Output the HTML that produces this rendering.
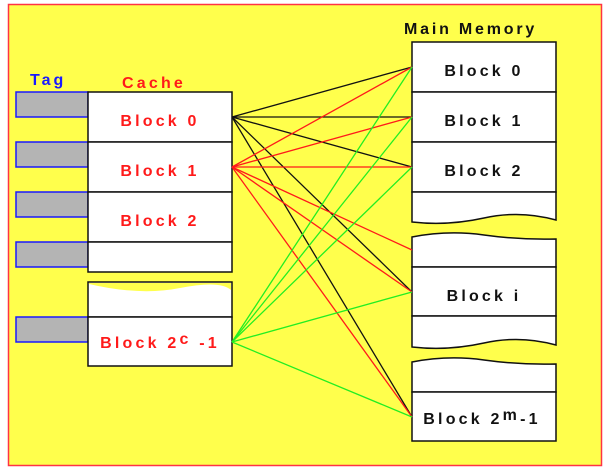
<!DOCTYPE html>
<html><head><meta charset="utf-8"><style>
body{margin:0;background:#fff;}
svg{display:block;font-family:"Liberation Sans",Arial,sans-serif;font-weight:bold;}
</style></head><body>
<svg width="609" height="470" viewBox="0 0 609 470">
<rect x="8.5" y="4.5" width="593" height="461" fill="#ffff4c" stroke="#ff3344" stroke-width="1.5"/>
<g>
<text x="30" y="85" fill="#1a1aff" font-size="16" letter-spacing="3">Tag</text>
<text x="122" y="88" fill="#ff1a1a" font-size="16" letter-spacing="3.2">Cache</text>
<text x="404" y="34" fill="#111" font-size="16" letter-spacing="2.8">Main Memory</text>
</g>
<g fill="#b4b4b4" stroke="#1a1aff" stroke-width="1.5">
<rect x="16" y="92" width="72" height="25"/>
<rect x="16" y="142" width="72" height="25"/>
<rect x="16" y="192" width="72" height="25"/>
<rect x="16" y="242" width="72" height="25"/>
<rect x="16" y="317" width="72" height="25"/>
</g>
<g fill="#fff" stroke="#111" stroke-width="1.5">
<rect x="88" y="92" width="144" height="50"/>
<rect x="88" y="142" width="144" height="50"/>
<rect x="88" y="192" width="144" height="50"/>
<rect x="88" y="242" width="144" height="30"/>
<path d="M88 282 H232 V317 H88 Z"/>
<path d="M89 284 Q140 296 180 288 T231 290 V283 H89 Z" fill="#ffff4c" stroke="none"/>
<rect x="88" y="317" width="144" height="49"/>
</g>
<g fill="#ff1a1a" font-size="16" letter-spacing="3.2" text-anchor="middle">
<text x="160" y="126">Block 0</text>
<text x="160" y="176">Block 1</text>
<text x="160" y="226">Block 2</text>
<text x="160" y="348">Block 2<tspan dy="-4">c</tspan><tspan dy="4"> -1</tspan></text>
</g>
<g fill="#fff" stroke="#111" stroke-width="1.5">
<rect x="412" y="42" width="144" height="50"/>
<rect x="412" y="92" width="144" height="50"/>
<rect x="412" y="142" width="144" height="50"/>
<path d="M412 192 H556 V220 Q520 210 484 218 T412 222 Z"/>
<path d="M412 237 Q448 230 484 235 T556 239 V267 H412 Z"/>
<rect x="412" y="267" width="144" height="49"/>
<path d="M412 316 H556 V345 Q520 335 484 343 T412 347 Z"/>
<path d="M412 362 Q448 355 484 360 T556 364 V392 H412 Z"/>
<rect x="412" y="392" width="144" height="49"/>
</g>
<g fill="#111" font-size="16" letter-spacing="3.2" text-anchor="middle">
<text x="484" y="76">Block 0</text>
<text x="484" y="126">Block 1</text>
<text x="484" y="176">Block 2</text>
<text x="484" y="301">Block i</text>
<text x="482" y="424">Block 2<tspan dy="-4">m</tspan><tspan dy="4">-1</tspan></text>
</g>
<g stroke-width="1.3">
<g stroke="#111">
<line x1="232" y1="117" x2="412" y2="67"/><line x1="232" y1="117" x2="412" y2="117"/><line x1="232" y1="117" x2="412" y2="167"/><line x1="232" y1="117" x2="412" y2="292"/><line x1="232" y1="117" x2="412" y2="417"/>
</g>
<g stroke="#ff1a1a">
<line x1="232" y1="167" x2="412" y2="67"/><line x1="232" y1="167" x2="412" y2="117"/><line x1="232" y1="167" x2="412" y2="167"/><line x1="232" y1="167" x2="412" y2="250"/><line x1="232" y1="167" x2="412" y2="292"/><line x1="232" y1="167" x2="412" y2="417"/>
</g>
<g stroke="#22ee22">
<line x1="232" y1="342" x2="412" y2="67"/><line x1="232" y1="342" x2="412" y2="117"/><line x1="232" y1="342" x2="412" y2="167"/><line x1="232" y1="342" x2="412" y2="292"/><line x1="232" y1="342" x2="412" y2="417"/>
</g>
</g>
</svg>
</body></html>
